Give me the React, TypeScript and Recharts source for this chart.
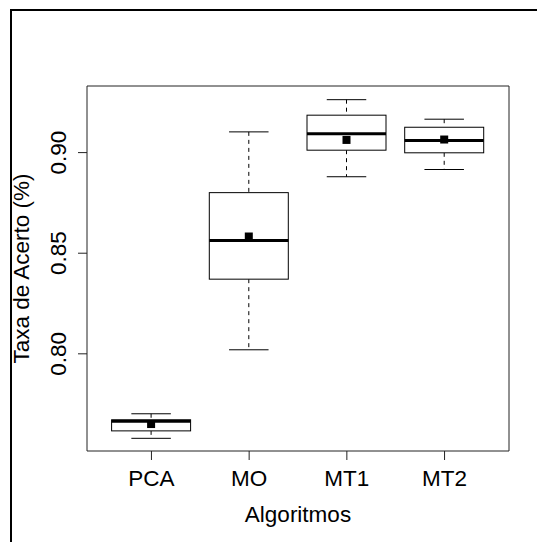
import React from 'react';
import { ComposedChart, Bar, XAxis, YAxis } from 'recharts';

const categories = ['PCA', 'MO', 'MT1', 'MT2'];
const whiskerLow = [0.758, 0.802, 0.888, 0.8916];
const q1 = [0.7617, 0.8371, 0.9012, 0.8999];
const median = [0.7665, 0.8563, 0.9094, 0.906];
const q3 = [0.7672, 0.8801, 0.9186, 0.9126];
const whiskerHigh = [0.7702, 0.9103, 0.9263, 0.9166];
const means = [0.7651, 0.8583, 0.9063, 0.9065];
const yTicks = [0.8, 0.85, 0.9];

const data = categories.map((name, i) => ({
  name,
  low: whiskerLow[i],
  q1: q1[i],
  median: median[i],
  q3: q3[i],
  high: whiskerHigh[i],
  mean: means[i],
}));

const FONT = '"Liberation Sans", Arial, sans-serif';
const FS = 22.5;
const Y_DOMAIN: [number, number] = [0.7517, 0.9331];

function BoxShape(props: any) {
  const { x, y, width, height, payload } = props;
  const top = Math.min(y, y + height);
  const bot = Math.max(y, y + height);
  const { low, high } = payload;
  const py = (v: number) => bot - ((v - low) / (high - low)) * (bot - top);
  const cx = x + width / 2;
  const cap = width / 4;
  return (
    <g>
      <line x1={cx} x2={cx} y1={py(high)} y2={py(payload.q3)} stroke="#000" strokeDasharray="4 4" />
      <line x1={cx} x2={cx} y1={py(payload.q1)} y2={py(low)} stroke="#000" strokeDasharray="4 4" />
      <line x1={cx - cap} x2={cx + cap} y1={py(high)} y2={py(high)} stroke="#000" />
      <line x1={cx - cap} x2={cx + cap} y1={py(low)} y2={py(low)} stroke="#000" />
      <rect
        x={x}
        y={py(payload.q3)}
        width={width}
        height={py(payload.q1) - py(payload.q3)}
        fill="#fff"
        stroke="#000"
      />
      <line x1={x} x2={x + width} y1={py(payload.median)} y2={py(payload.median)} stroke="#000" strokeWidth={3} />
      <rect x={cx - 4} y={py(payload.mean) - 4} width={8} height={8} fill="#000" />
    </g>
  );
}

function XTick({ x, y, payload }: any) {
  return (
    <text x={x} y={y + 24} textAnchor="middle" fontSize={FS} fontFamily={FONT} fill="#000">
      {payload.value}
    </text>
  );
}

function YTick({ x, y, payload }: any) {
  return (
    <text
      transform={`translate(${x - 10} ${y}) rotate(-90)`}
      textAnchor="middle"
      fontSize={FS}
      fontFamily={FONT}
      fill="#000"
    >
      {Number(payload.value).toFixed(2)}
    </text>
  );
}

export default function App() {
  return (
    <div style={{ position: 'absolute', left: 0, top: 0, width: 537, height: 542, overflow: 'hidden', background: '#fff' }}>
      <div
        style={{
          position: 'absolute',
          left: 10,
          top: 9,
          width: 700,
          height: 700,
          borderTop: '2px solid #000',
          borderLeft: '2px solid #000',
        }}
      />
      <div style={{ position: 'absolute', left: 0, top: 0 }}>
        <ComposedChart width={537} height={542} data={data} margin={{ top: 85, right: 27, bottom: 0, left: 0 }}>
          <XAxis
            dataKey="name"
            height={91}
            padding={{ left: 15.6, right: 15.6 }}
            stroke="#222"
            tickSize={9}
            tick={<XTick />}
            label={{
              content: ({ viewBox }: any) => (
                <text
                  x={viewBox.x + viewBox.width / 2}
                  y={viewBox.y + 71}
                  textAnchor="middle"
                  fontSize={FS}
                  fontFamily={FONT}
                  fill="#000"
                >
                  Algoritmos
                </text>
              ),
            }}
          />
          <XAxis xAxisId="top" dataKey="name" orientation="top" height={1} tick={false} tickLine={false} stroke="#222" />
          <YAxis
            width={87}
            domain={Y_DOMAIN}
            allowDataOverflow
            ticks={yTicks}
            stroke="#222"
            tickSize={9}
            tick={<YTick />}
            label={{
              content: ({ viewBox }: any) => (
                <text
                  transform={`translate(29 ${viewBox.y + viewBox.height / 2}) rotate(-90)`}
                  textAnchor="middle"
                  fontSize={FS}
                  fontFamily={FONT}
                  fill="#000"
                >
                  Taxa de Acerto (%)
                </text>
              ),
            }}
          />
          <YAxis
            yAxisId="right"
            orientation="right"
            width={1}
            domain={Y_DOMAIN}
            allowDataOverflow
            tick={false}
            tickLine={false}
            stroke="#222"
          />
          <Bar
            dataKey={(d: any) => [d.low, d.high]}
            barSize={79}
            shape={<BoxShape />}
            isAnimationActive={false}
          />
          <Bar
            xAxisId="top"
            yAxisId="right"
            dataKey={(d: any) => [d.low, d.high]}
            shape={() => <g />}
            isAnimationActive={false}
          />
        </ComposedChart>
      </div>
    </div>
  );
}
